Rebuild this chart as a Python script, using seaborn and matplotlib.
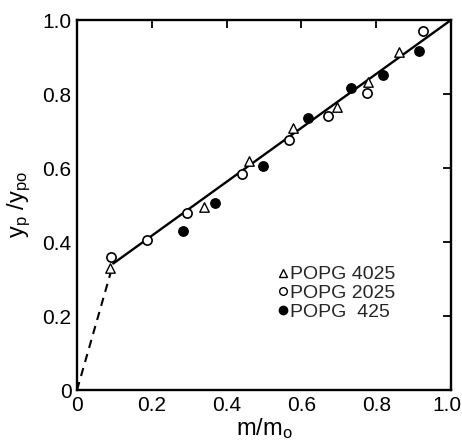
import matplotlib
matplotlib.use("Agg")
import matplotlib.pyplot as plt
import matplotlib.transforms as mtransforms
import seaborn as sns
import pandas as pd
from matplotlib.lines import Line2D

sns.set_theme(style="white")
plt.rcParams['font.family'] = ['Liberation Sans', 'DejaVu Sans']
plt.rcParams['mathtext.fontset'] = 'custom'
plt.rcParams['mathtext.rm'] = 'Liberation Sans'
plt.rcParams['mathtext.it'] = 'Liberation Sans'

# POPG 4025 (open triangles)
x_4025 = [0.088, 0.34, 0.459, 0.578, 0.694, 0.779, 0.861]
y_4025 = [0.33, 0.495, 0.62, 0.707, 0.764, 0.833, 0.914]
# POPG 2025 (open circles)
x_2025 = [0.09, 0.186, 0.293, 0.44, 0.568, 0.672, 0.776, 0.924]
y_2025 = [0.36, 0.406, 0.479, 0.585, 0.675, 0.741, 0.804, 0.971]
# POPG 425 (filled circles)
x_425 = [0.284, 0.369, 0.498, 0.618, 0.733, 0.819, 0.914]
y_425 = [0.43, 0.506, 0.605, 0.734, 0.815, 0.851, 0.916]

# fitted lines
solid_x = [0.097, 1.0]
solid_y = [0.342, 1.0]
dash_x = [0.0, 0.097]
dash_y = [0.0, 0.342]

labels = ["POPG 4025", "POPG 2025", "POPG  425"]
ticks = [0, 0.2, 0.4, 0.6, 0.8, 1.0]
tick_labels = ["0", "0.2", "0.4", "0.6", "0.8", "1.0"]

fig = plt.figure(figsize=(4.62, 4.41), dpi=100)
ax = fig.add_axes([0.1667, 0.1156, 0.8095, 0.839])

sns.lineplot(x=solid_x, y=solid_y, ax=ax, color="black", linewidth=1.7)
ax.plot(dash_x, dash_y, color="black", linewidth=1.5, linestyle=(0, (4, 3)))

df4 = pd.DataFrame({"x": x_4025, "y": y_4025})
df2 = pd.DataFrame({"x": x_2025, "y": y_2025})
df0 = pd.DataFrame({"x": x_425, "y": y_425})
sns.scatterplot(data=df4, x="x", y="y", ax=ax, marker="^", s=46,
                facecolor="white", edgecolor="black", linewidth=1.0, zorder=3)
sns.scatterplot(data=df2, x="x", y="y", ax=ax, marker="o", s=44,
                facecolor="white", edgecolor="black", linewidth=1.2, zorder=3)
sns.scatterplot(data=df0, x="x", y="y", ax=ax, marker="o", s=46,
                facecolor="black", edgecolor="black", linewidth=1.0, zorder=3)

ax.set_xlim(0, 1.0)
ax.set_ylim(0, 1.0)
ax.set_xticks(ticks)
ax.set_xticklabels(tick_labels)
ax.set_yticks(ticks)
ax.set_yticklabels(tick_labels)
ax.tick_params(direction="in", length=6, width=1.3, top=True, right=True,
               labelsize=15, colors="black", pad=4)
for sp in ax.spines.values():
    sp.set_visible(True)
    sp.set_color("black")
    sp.set_linewidth(1.7)

# keep the last x tick label inside the figure
last = ax.get_xticklabels()[-1]
last.set_transform(last.get_transform() +
                   mtransforms.ScaledTranslation(-4 / 100, 0, fig.dpi_scale_trans))

ax.set_xlabel(r"$\mathrm{m/m_o}$", fontsize=17, labelpad=1, color="black")
ax.set_ylabel(r"$\mathrm{y_p\ /y_{po}}$", fontsize=17, labelpad=7, color="black")

handles = [
    Line2D([], [], marker="^", linestyle="none", markerfacecolor="white",
           markeredgecolor="black", markersize=5.5, markeredgewidth=1.0),
    Line2D([], [], marker="o", linestyle="none", markerfacecolor="white",
           markeredgecolor="black", markersize=5.5, markeredgewidth=1.0),
    Line2D([], [], marker="o", linestyle="none", markerfacecolor="black",
           markeredgecolor="black", markersize=6),
]
ax.legend(handles, labels, loc="upper left", bbox_to_anchor=(0.508, 0.362),
          frameon=False, fontsize=14, handlelength=0.6, handletextpad=0.1,
          labelspacing=0.05, borderpad=0)

ax.set_facecolor("white")
fig.savefig("out.png", dpi=100, facecolor="white")
